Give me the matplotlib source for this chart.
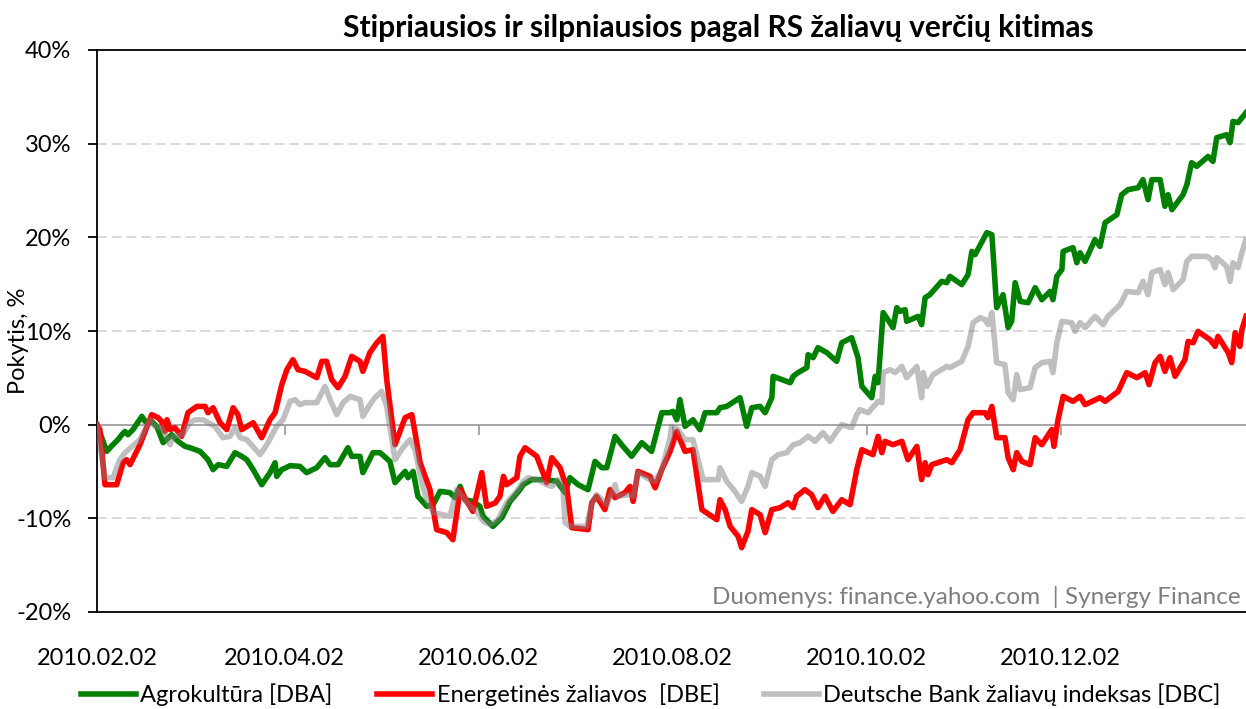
import numpy as np
import matplotlib
matplotlib.use("Agg")
import matplotlib.pyplot as plt
import matplotlib.dates as mdates
from matplotlib.lines import Line2D
from datetime import datetime

plt.rcParams['font.family'] = ['Lato', 'DejaVu Sans']

title = "Stipriausios ir silpniausios pagal RS žaliavų verčių kitimas"
ylabel = "Pokytis, %"
source = "Duomenys: finance.yahoo.com  | Synergy Finance"
labels = ["Agrokultūra [DBA]", "Energetinės žaliavos  [DBE]", "Deutsche Bank žaliavų indeksas [DBC]"]
start_date = datetime(2010, 2, 2)
tick_dates = [datetime(2010, m, 2) for m in (2, 4, 6, 8, 10, 12)]
yticks = [-20, -10, 0, 10, 20, 30, 40]

# days since 2010-02-02, percent change
dba_days = [0, 3.05, 5.0, 6.6, 7.8, 8.8, 9.7, 11.3, 14.1, 15.1, 17.2, 18.8, 20.8, 23.5, 25.5, 27.7, 29.2, 32.4, 34.9, 36.5,
            38.1, 40.8, 43.4, 45.5, 47.1, 49.1, 51.8, 54.4, 56.0, 56.5, 58.1, 60.7, 63.8, 65.9, 69.1, 71.7, 73.3, 75.8, 78.9, 80.1,
            82.7, 83.6, 86.8, 89.0, 92.1, 93.7, 96.9, 97.8, 99.4, 100.9, 103.7, 105.7, 107.9, 111.0, 112.6, 114.2, 115.7, 118.2, 120.4, 121.4,
            124.5, 127.3, 129.9, 133.0, 134.0, 136.7, 141.4, 144.6, 147.2, 148.7, 151.3, 154.4, 156.6, 158.7, 160.3, 162.9, 165.4, 168.1, 171.3, 174.4,
            177.6, 180.2, 181.1, 182.3, 183.3, 184.9, 187.4, 189.6, 191.2, 194.9, 195.9, 198.0, 202.2, 204.3, 205.9, 208.5, 210.1, 212.2, 212.6, 218.0,
            218.9, 220.4, 223.2, 223.6, 225.2, 226.7, 229.5, 232.6, 234.2, 237.3, 239.3, 240.5, 243.6, 244.7, 245.6, 247.2, 248.7, 250.3, 251.5, 252.5,
            254.1, 254.6, 258.2, 259.3, 260.4, 261.9, 265.6, 267.2, 268.2, 271.9, 273.9, 275.1, 276.1, 279.8, 281.4, 282.9, 284.9, 286.5, 287.6, 288.7,
            290.3, 292.8, 295.0, 297.1, 299.7, 300.6, 301.8, 303.4, 303.8, 306.9, 308.1, 309.1, 310.7, 313.8, 315.4, 317.0, 320.7, 322.2, 324.2, 327.4,
            328.9, 330.5, 331.7, 334.3, 335.8, 336.8, 338.0, 341.5, 342.7, 344.2, 345.8, 349.4, 350.9, 352.1, 355.2, 356.3, 357.2, 358.8, 361.3]
dba_pct = [0.0, -2.85, -2.14, -1.60, -1.07, -0.72, -1.07, -0.53, 0.89, 0.35, 0.35, -0.18, -1.92, -1.07, -1.78, -2.32, -2.46, -2.85, -3.74, -4.80,
           -4.27, -4.45, -2.99, -3.38, -3.74, -4.80, -6.41, -5.12, -4.06, -5.52, -4.80, -4.38, -4.45, -5.12, -4.59, -3.52, -4.27, -4.27, -2.46, -3.38,
           -3.38, -5.12, -2.99, -2.99, -3.92, -6.19, -4.99, -5.66, -4.99, -7.65, -8.72, -8.54, -7.12, -7.26, -7.79, -6.59, -8.01, -8.19, -8.72, -9.79,
           -10.86, -9.93, -8.19, -6.94, -6.41, -5.87, -5.87, -6.05, -7.26, -5.66, -6.41, -6.94, -3.92, -4.59, -4.59, -1.25, -2.32, -3.38, -1.92, -2.85,
           1.28, 1.28, 1.42, 0.53, 2.67, -0.18, 0.53, -0.53, 1.28, 1.28, 1.81, 1.95, 2.88, -0.18, 1.81, 1.95, 1.28, 2.88, 5.16, 4.48,
           5.16, 5.55, 6.09, 7.47, 7.15, 8.22, 7.69, 6.76, 8.75, 9.29, 7.15, 4.09, 2.88, 5.16, 4.48, 11.96, 11.21, 10.36, 12.49, 12.10,
           12.28, 11.03, 11.56, 10.68, 13.56, 13.88, 15.30, 15.16, 15.83, 14.95, 16.01, 18.50, 18.15, 20.50, 20.28, 12.49, 13.88, 10.36, 11.03, 15.16,
           13.16, 13.02, 14.63, 13.34, 14.23, 13.34, 15.83, 16.55, 18.50, 18.90, 17.29, 18.36, 17.43, 19.75, 19.03, 21.57, 22.42, 24.55, 25.09, 25.30,
           26.16, 24.02, 26.16, 26.16, 23.31, 24.55, 22.95, 24.55, 25.62, 27.97, 27.58, 28.64, 28.11, 30.64, 30.96, 30.11, 32.38, 32.24, 33.31]

dbe_days = [0, 0.9, 2.5, 6.2, 8.2, 9.3, 10.4, 13.5, 17.2, 19.2, 20.3, 21.4, 22.0, 23.0, 24.5, 26.6, 28.6, 31.4, 34.0, 34.9,
            36.5, 38.7, 40.8, 42.8, 44.3, 45.5, 49.1, 51.8, 54.4, 56.0, 58.1, 59.7, 61.6, 63.2, 65.4, 69.1, 70.7, 72.2, 73.8, 75.8,
            78.0, 80.1, 82.7, 83.6, 85.8, 88.0, 89.9, 91.1, 93.7, 96.9, 99.0, 100.0, 101.6, 104.7, 106.8, 110.0, 111.9, 114.2, 116.3, 118.2,
            121.0, 122.5, 125.2, 126.7, 127.8, 128.8, 132.0, 133.0, 134.6, 138.3, 141.4, 143.0, 145.6, 147.7, 149.3, 154.4, 155.6, 157.1, 159.7, 161.3,
            162.9, 166.0, 167.6, 168.6, 170.1, 173.9, 175.5, 177.6, 180.2, 182.3, 184.9, 187.4, 190.2, 194.9, 195.9, 197.5, 199.1, 201.6, 202.7, 204.7,
            205.9, 208.5, 210.1, 212.2, 214.8, 217.3, 218.9, 220.0, 222.6, 224.7, 226.7, 228.9, 231.4, 234.2, 236.8, 238.9, 240.5, 244.0, 245.6, 246.8,
            247.8, 250.3, 253.1, 255.0, 257.8, 259.3, 260.4, 261.3, 262.5, 267.2, 268.8, 271.4, 273.9, 275.5, 279.2, 280.2, 281.4, 282.9, 285.5, 286.5,
            288.1, 289.2, 290.8, 293.4, 295.0, 297.1, 300.2, 300.9, 302.2, 303.8, 306.9, 309.1, 310.7, 315.4, 317.0, 321.1, 323.8, 327.0, 329.6, 330.8,
            332.7, 334.3, 335.8, 337.4, 339.0, 342.1, 343.1, 344.7, 346.2, 350.0, 351.6, 352.5, 355.7, 356.8, 357.9, 359.4, 360.0, 361.3]
dbe_pct = [0.0, -0.53, -6.41, -6.41, -4.06, -3.74, -4.27, -2.14, 1.07, 0.75, 0.35, -0.72, 0.53, -0.53, -0.32, -1.25, 1.28, 1.95, 1.95, 1.28,
           1.81, 0.21, -0.53, 1.81, 1.07, -0.53, 0.21, -1.39, 0.53, 1.28, 4.27, 5.87, 6.94, 5.87, 5.69, 5.02, 6.76, 6.76, 4.80, 3.95,
           5.16, 7.29, 6.76, 5.69, 7.69, 8.75, 9.43, 4.80, -2.14, 0.75, 1.07, -0.85, -4.06, -6.94, -11.21, -11.53, -12.28, -6.94, -8.19, -9.26,
           -5.12, -8.72, -8.36, -7.65, -5.52, -6.41, -5.66, -3.38, -2.46, -3.38, -6.19, -3.52, -4.59, -6.73, -11.00, -11.21, -8.33, -7.65, -9.07, -6.94,
           -7.79, -7.26, -6.59, -8.19, -4.99, -5.52, -6.73, -4.80, -2.85, -0.72, -2.85, -2.67, -9.07, -10.14, -8.01, -9.07, -10.86, -11.92, -13.13, -11.39,
           -9.07, -9.61, -11.53, -9.07, -8.86, -8.33, -8.86, -7.65, -6.94, -7.47, -8.86, -7.65, -9.26, -8.01, -8.54, -4.80, -2.67, -3.20, -1.25, -2.99,
           -1.78, -2.14, -1.78, -3.74, -2.32, -5.87, -4.06, -5.34, -4.27, -3.74, -4.06, -2.67, 0.53, 1.28, 1.28, 0.75, 1.95, -1.39, -1.39, -3.52,
           -4.80, -2.99, -3.92, -4.27, -1.39, -2.14, -0.53, -2.32, 0.53, 3.02, 2.49, 3.02, 2.14, 2.88, 2.49, 3.55, 5.55, 5.02, 5.55, 4.27,
           6.62, 7.29, 5.69, 7.15, 5.16, 6.94, 8.89, 8.75, 9.96, 9.07, 8.36, 9.43, 7.69, 6.62, 9.82, 8.36, 10.14, 11.56]

dbc_days = [0, 2.5, 5.0, 7.2, 8.8, 13.5, 16.7, 18.2, 20.3, 23.0, 23.9, 27.0, 29.2, 30.8, 33.3, 37.1, 39.6, 41.8, 43.4, 45.0,
            47.1, 51.3, 53.4, 56.5, 58.5, 60.7, 62.3, 63.8, 65.4, 69.1, 70.7, 71.7, 73.3, 75.4, 77.4, 79.6, 82.7, 83.6, 85.8, 87.4,
            89.5, 91.1, 93.7, 96.2, 98.4, 100.0, 102.1, 103.7, 105.7, 108.8, 111.0, 113.1, 117.3, 118.9, 121.5, 123.6, 126.1, 128.8, 132.0, 134.1,
            135.5, 138.7, 141.4, 143.0, 145.0, 146.5, 147.2, 148.7, 154.0, 155.6, 157.1, 160.3, 161.9, 162.9, 163.8, 167.0, 168.6, 170.1, 173.9, 175.5,
            177.6, 180.2, 180.7, 182.7, 184.9, 187.4, 190.6, 195.3, 195.9, 198.0, 200.6, 202.7, 204.7, 205.9, 208.5, 210.1, 212.2, 214.2, 216.9, 218.9,
            221.1, 223.6, 225.8, 228.3, 230.5, 232.6, 234.2, 237.3, 238.9, 239.9, 242.5, 245.6, 246.8, 247.2, 249.4, 251.0, 253.1, 254.6, 257.8, 259.3,
            259.8, 261.0, 262.9, 267.2, 268.2, 271.9, 273.9, 275.5, 277.7, 279.2, 280.2, 281.4, 282.9, 285.5, 286.5, 288.1, 289.2, 290.3, 293.4, 295.0,
            297.1, 299.7, 300.6, 301.8, 303.4, 306.5, 307.5, 309.1, 310.7, 313.8, 316.4, 317.9, 321.7, 323.8, 327.4, 328.9, 330.5, 331.7, 334.3, 335.8,
            336.8, 338.4, 341.5, 342.7, 344.2, 349.0, 350.5, 351.6, 352.1, 355.2, 356.3, 357.2, 358.8, 360.0, 361.3]
dbc_pct = [0.0, -5.66, -5.66, -3.74, -2.99, -1.60, 0.53, -0.18, -0.32, -2.14, -1.25, -1.07, 0.21, 0.53, 0.53, -0.18, -1.39, -1.25, -0.32, -1.39,
           -1.60, -3.20, -2.14, -0.18, 0.53, 2.49, 2.67, 2.14, 2.35, 2.35, 3.42, 4.09, 2.67, 1.07, 2.35, 3.02, 2.67, 0.89, 2.14, 2.88,
           3.56, 1.95, -3.74, -2.46, -1.60, -2.67, -6.19, -8.01, -9.39, -9.61, -9.79, -6.94, -8.72, -9.07, -10.32, -10.68, -10.14, -8.36, -7.12, -6.05,
           -5.66, -5.87, -6.41, -6.59, -5.87, -6.73, -10.46, -10.86, -10.86, -8.36, -7.47, -8.54, -7.26, -6.41, -7.65, -7.47, -7.65, -5.12, -5.87, -6.05,
           -4.80, -1.39, -0.18, -0.53, -1.60, -1.60, -5.87, -5.87, -4.59, -6.05, -7.12, -8.19, -6.59, -5.12, -5.52, -6.59, -3.74, -3.20, -2.99, -2.14,
           -1.92, -1.25, -1.78, -0.85, -1.78, -0.72, 0.00, -0.32, 1.07, 1.60, 1.28, 2.49, 2.35, 5.55, 5.87, 5.55, 6.22, 5.02, 6.22, 2.88,
           5.55, 4.09, 5.34, 6.22, 6.09, 6.76, 8.36, 10.89, 11.42, 11.21, 10.68, 11.96, 6.62, 6.41, 3.42, 2.67, 5.34, 3.74, 3.95, 6.09,
           6.62, 6.76, 5.55, 8.75, 11.03, 10.89, 9.96, 10.89, 10.36, 11.56, 10.68, 11.56, 12.81, 14.23, 14.09, 15.30, 13.88, 16.23, 16.55, 14.95,
           16.23, 14.41, 15.48, 17.43, 17.97, 17.97, 17.61, 16.76, 17.83, 16.90, 15.30, 17.29, 16.76, 18.36, 19.75]

W, H = 1246, 709
fig = plt.figure(figsize=(W / 100, H / 100), dpi=100)
ax = fig.add_axes([97 / W, 1 - 612 / H, 1 - 97 / W, (612 - 50) / H])

base = mdates.date2num(start_date)
fs = 17
lw = 4.0

ax.plot(base + np.array(dba_days), dba_pct, color='#008000', lw=lw, solid_joinstyle='round', zorder=3)
ax.plot(base + np.array(dbe_days), dbe_pct, color='#FF0000', lw=lw, solid_joinstyle='round', zorder=4)
ax.plot(base + np.array(dbc_days), dbc_pct, color='#808080', alpha=0.5, lw=lw, solid_joinstyle='round', zorder=5)

ax.set_xlim(base, base + dba_days[-1])
ax.set_ylim(-20, 40)

# grid
for v in yticks:
    if v in (-20, 40):
        continue
    if v == 0:
        ax.axhline(0, color='#A6A6A6', lw=1.4, zorder=2)
    else:
        ax.axhline(v, color='#D9D9D9', lw=1.4, ls=(0, (5, 2.6)), zorder=1)

# ticks on zero line
tnum = mdates.date2num(tick_dates)
ax.plot(tnum, np.zeros(len(tnum)), ls='none', marker=3, markersize=7.5, mew=1.4, color='#A6A6A6', zorder=2, clip_on=False)

ax.set_yticks(yticks)
ax.set_yticklabels([f"{v}%" for v in yticks])
ax.tick_params(axis='y', direction='out', length=6.5, width=1.3, labelsize=fs, pad=12)
ax.set_xticks(tnum)
ax.set_xticklabels([d.strftime('%Y.%m.%d') for d in tick_dates])
ax.tick_params(axis='x', length=0, labelsize=fs, pad=26)

for s in ('left', 'top', 'bottom'):
    ax.spines[s].set_linewidth(1.3)
    ax.spines[s].set_color('black')
ax.spines['right'].set_visible(False)

fig.text(718 / W, 1 - 28 / H, title, ha='center', va='center', fontsize=21.5, fontweight='bold')
fig.text(19 / W, 1 - 341 / H, ylabel, ha='center', va='center', rotation=90, fontsize=fs)
fig.text(1241 / W, 1 - 597 / H, source, ha='right', va='center', fontsize=17.5, color='#7F7F7F')

handles = [Line2D([], [], color='#008000', lw=lw),
           Line2D([], [], color='#FF0000', lw=lw),
           Line2D([], [], color='#BFBFBF', lw=lw)]
fig.legend(handles, labels, loc='center', bbox_to_anchor=(651 / W, 1 - 695 / H), ncol=3, frameon=False,
           fontsize=fs, handlelength=2.3, handletextpad=0.2, columnspacing=1.9, borderpad=0, borderaxespad=0)

fig.savefig('out.png', dpi=100)
